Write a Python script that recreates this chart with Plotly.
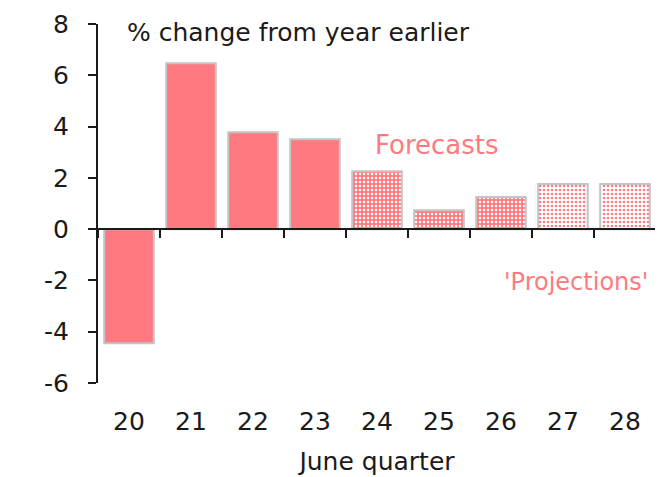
import plotly.graph_objects as go

years = ["20", "21", "22", "23", "24", "25", "26", "27", "28"]
values = [-4.45, 6.47, 3.78, 3.51, 2.26, 0.74, 1.25, 1.76, 1.76]
kinds = ["actual", "actual", "actual", "actual", "forecast", "forecast", "forecast", "projection", "projection"]
y_ticks = [-6, -4, -2, 0, 2, 4, 6, 8]
y_ticktext = ["-6", "-4", "-2", "0", "2", "4", "6", "8"]

RED = "#FF7A80"
GREY = "#C4C4C4"
INK = "#1a1a1a"
FONT = "DejaVu Sans"
FS = 25
FT = 26

fig = go.Figure()
xs = list(range(len(years)))

styles = {
    "actual": dict(shape="", bg=RED, fg=RED),
    "forecast": dict(shape=".", bg=RED, fg="white"),
    "projection": dict(shape=".", bg="white", fg=RED),
}
for kind, st in styles.items():
    kx = [x for x, k in zip(xs, kinds) if k == kind]
    ky = [v for v, k in zip(values, kinds) if k == kind]
    fig.add_trace(go.Bar(
        x=kx, y=ky, width=0.8,
        marker=dict(
            color=st["bg"],
            line=dict(color=GREY, width=2),
            pattern=dict(shape=st["shape"], bgcolor=st["bg"], fgcolor=st["fg"],
                         size=4, solidity=0.3, fillmode="replace"),
        ),
        showlegend=False, hoverinfo="skip",
    ))

# invisible trace for overlay axis drawn at zero
fig.add_trace(go.Scatter(x=[-0.5, 8.5], y=[0, 0], xaxis="x2", mode="lines",
                         line=dict(color="rgba(0,0,0,0)"), showlegend=False, hoverinfo="skip"))

fig.update_layout(
    width=663, height=477,
    margin=dict(l=90, r=15, t=16, b=102, autoexpand=False),
    plot_bgcolor="white", paper_bgcolor="white",
    font=dict(family=FONT, size=FS, color=INK),
    barmode="overlay",
    xaxis=dict(
        range=[-0.5, 8.5], tickvals=xs, ticktext=years,
        showline=False, showgrid=False, zeroline=False, ticks="",
        ticklabelstandoff=21, automargin=False,
        title=dict(text="June quarter", font=dict(size=FS), standoff=17),
        tickfont=dict(size=FS),
    ),
    xaxis2=dict(
        overlaying="x", anchor="free", position=6 / 14,
        range=[-0.5, 8.5], tickvals=[i + 0.5 for i in range(-1, 9)],
        showticklabels=False, showline=True, linecolor=INK, linewidth=2,
        ticks="outside", ticklen=8, tickwidth=2, tickcolor=INK,
        showgrid=False, zeroline=False,
    ),
    yaxis=dict(
        range=[-6, 8], tickvals=y_ticks, ticktext=y_ticktext,
        showline=True, linecolor=INK, linewidth=2,
        ticks="outside", ticklen=8, tickwidth=2, tickcolor=INK,
        showgrid=False, zeroline=False, tickfont=dict(size=FS),
        ticklabelstandoff=14, automargin=False,
    ),
    annotations=[
        dict(text="% change from year earlier", xref="paper", yref="paper",
             x=0.048, y=0.975, xanchor="left", yanchor="middle", showarrow=False,
             font=dict(size=FS, color=INK)),
        dict(text="Forecasts", xref="paper", yref="paper",
             x=0.493, y=0.663, xanchor="left", yanchor="middle", showarrow=False,
             font=dict(size=FT, color=RED)),
        dict(text="'Projections'", xref="paper", yref="paper",
             x=0.989, y=0.281, xanchor="right", yanchor="middle", showarrow=False,
             font=dict(size=24, color=RED)),
    ],
)

fig.write_html("out.html")
